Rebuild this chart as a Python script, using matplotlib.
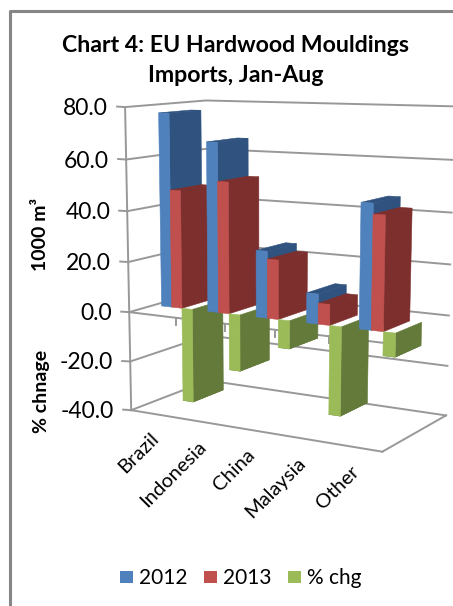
#!/usr/bin/env python3
"""
EU hardwood moulding imports as a 3D-style clustered column chart.
Columns are projected by hand onto a flat matplotlib axes in pixel units.
"""

import numpy as np
import matplotlib
matplotlib.use('Agg')
import matplotlib.pyplot as plt
from matplotlib.patches import Polygon, Rectangle

plt.rcParams['font.family'] = ['Lato', 'DejaVu Sans']

categories = ['Brazil', 'Indonesia', 'China', 'Malaysia', 'Other']
values_2012 = [77.0, 66.5, 26.0, 11.5, 47.0]
values_2013 = [47.0, 51.5, 23.0, 8.0, 43.0]
pct_change = [-38.0, -22.5, -11.0, -34.5, -9.0]
value_ticks = [-40, -20, 0, 20, 40, 60, 80]
series_names = ['2012', '2013', '% chg']

FRONT = ['#4F81BD', '#C0504D', '#9BBB59']
SIDE = ['#2F527F', '#7D2F2D', '#647A3A']
GRID = '#989898'
LINE_W = 1.4

# Box corners (across, depth, value) and where they land on the canvas
anchors = [
    ((0, 0, 80), (124, 107)), ((0, 0, 0), (130, 312)), ((0, 0, -40), (132, 410)),
    ((0, 1, 80), (207, 100)), ((0, 1, 0), (207, 291)), ((0, 1, -40), (207, 380)),
    ((1, 0, 0), (383, 342)), ((1, 0, -40), (383, 453)),
    ((1, 1, 80), (455, 107)), ((1, 1, 0), (448, 315)), ((1, 1, -40), (447, 415)),
]


def fit_camera(pairs):
    """Least squares 3x4 camera matrix from point pairs"""
    rows = []
    for (u, d, v), (x, y) in pairs:
        rows.append([u, d, v, 1, 0, 0, 0, 0, -x * u, -x * d, -x * v, -x])
        rows.append([0, 0, 0, 0, u, d, v, 1, -y * u, -y * d, -y * v, -y])
    _, _, vt = np.linalg.svd(np.array(rows, dtype=float))
    return vt[-1].reshape(3, 4)


camera = fit_camera(anchors)


def project(u, d, v):
    px = camera @ np.array([u, d, v, 1.0])
    return px[0] / px[2], px[1] / px[2]


def draw_column(ax, u0, u1, d0, d1, base, top, s):
    """One column: side and top faces in the dark shade, front in the light one"""
    faces = [
        ([(u1, d0, base), (u1, d1, base), (u1, d1, top), (u1, d0, top)], SIDE[s]),
        ([(u0, d0, top), (u1, d0, top), (u1, d1, top), (u0, d1, top)], SIDE[s]),
        ([(u0, d0, base), (u1, d0, base), (u1, d0, top), (u0, d0, top)], FRONT[s]),
    ]
    for corners, color in faces:
        pts = [project(*c) for c in corners]
        ax.add_patch(Polygon(pts, closed=True, facecolor=color, edgecolor=color,
                             linewidth=0.4, zorder=3))


fig = plt.figure(figsize=(4.53, 6.06), dpi=100, facecolor='white')
ax = fig.add_axes([0, 0, 1, 1])
ax.set_xlim(0, 453)
ax.set_ylim(606, 0)
ax.axis('off')

# Chart frame, open towards the right and bottom
ax.plot([10, 10, 453], [606, 11, 11], color='#868686', linewidth=2.2, zorder=1)

# Wall gridlines, tick marks and value labels
for val in value_ticks:
    pts = [project(0, 0, val), project(0, 1, val), project(1, 1, val)]
    xs, ys = zip(*pts)
    ax.plot(xs, ys, color=GRID, linewidth=LINE_W, zorder=2)
    x0, y0 = pts[0]
    ax.plot([x0 - 8, x0], [y0 - 0.5, y0], color=GRID, linewidth=LINE_W, zorder=2)
    ax.text(x0 - 17, y0 + 1.5, f'{val:.1f}', ha='right', va='center', fontsize=16.5,
            color='black')

# Left edge, floor front and side, zero line with category ticks
edges = [((0, 0, 80), (0, 0, -40)), ((0, 0, -40), (1, 0, -40)),
         ((1, 0, -40), (1, 1, -40)), ((0, 0, 0), (1, 0, 0))]
for a, b in edges:
    (xa, ya), (xb, yb) = project(*a), project(*b)
    ax.plot([xa, xb], [ya, yb], color=GRID, linewidth=LINE_W, zorder=2)

n_cat = len(categories)
for i in range(1, n_cat + 1):
    x0, y0 = project(i / n_cat, 0, 0)
    ax.plot([x0, x0], [y0, y0 + 7], color=GRID, linewidth=LINE_W, zorder=2)

# Columns, left to right so nearer ones cover farther ones
cat_w = 1 / n_cat
bar_w = cat_w / 4.5
margin = (cat_w - 3 * bar_w) / 2
depth0, depth1 = 0.3, 0.7
for i in range(n_cat):
    for s, series in enumerate([values_2012, values_2013, pct_change]):
        u0 = i * cat_w + margin + bar_w * s
        draw_column(ax, u0, u0 + bar_w, depth0, depth1, 0, series[i], s)

for i, name in enumerate(categories):
    x0, y0 = project((i + 0.5) * cat_w, 0, -40)
    ax.text(x0 + 2, y0 + 22, name, rotation=45, rotation_mode='anchor',
            ha='right', va='center', fontsize=14.5, color='black')

ax.text(236, 45, 'Chart 4: EU Hardwood Mouldings', ha='center', va='center',
        fontsize=16.7, fontweight='bold', color='black')
ax.text(236, 76, 'Imports, Jan-Aug', ha='center', va='center',
        fontsize=16.7, fontweight='bold', color='black')

ax.text(41, 234, '1000 m³', rotation=90, ha='center', va='center',
        fontsize=14, fontweight='bold', color='black')
ax.text(41, 391, '% chnage', rotation=90, ha='center', va='center',
        fontsize=14, fontweight='bold', color='black')

# Legend row
for name, color, x_box in zip(series_names, FRONT, [120, 204, 288]):
    ax.add_patch(Rectangle((x_box, 571), 13, 12, facecolor=color, edgecolor='none'))
    ax.text(x_box + 19, 578, name, ha='left', va='center', fontsize=15, color='black')

plt.savefig('out.png', dpi=100, facecolor='white')
plt.close()
